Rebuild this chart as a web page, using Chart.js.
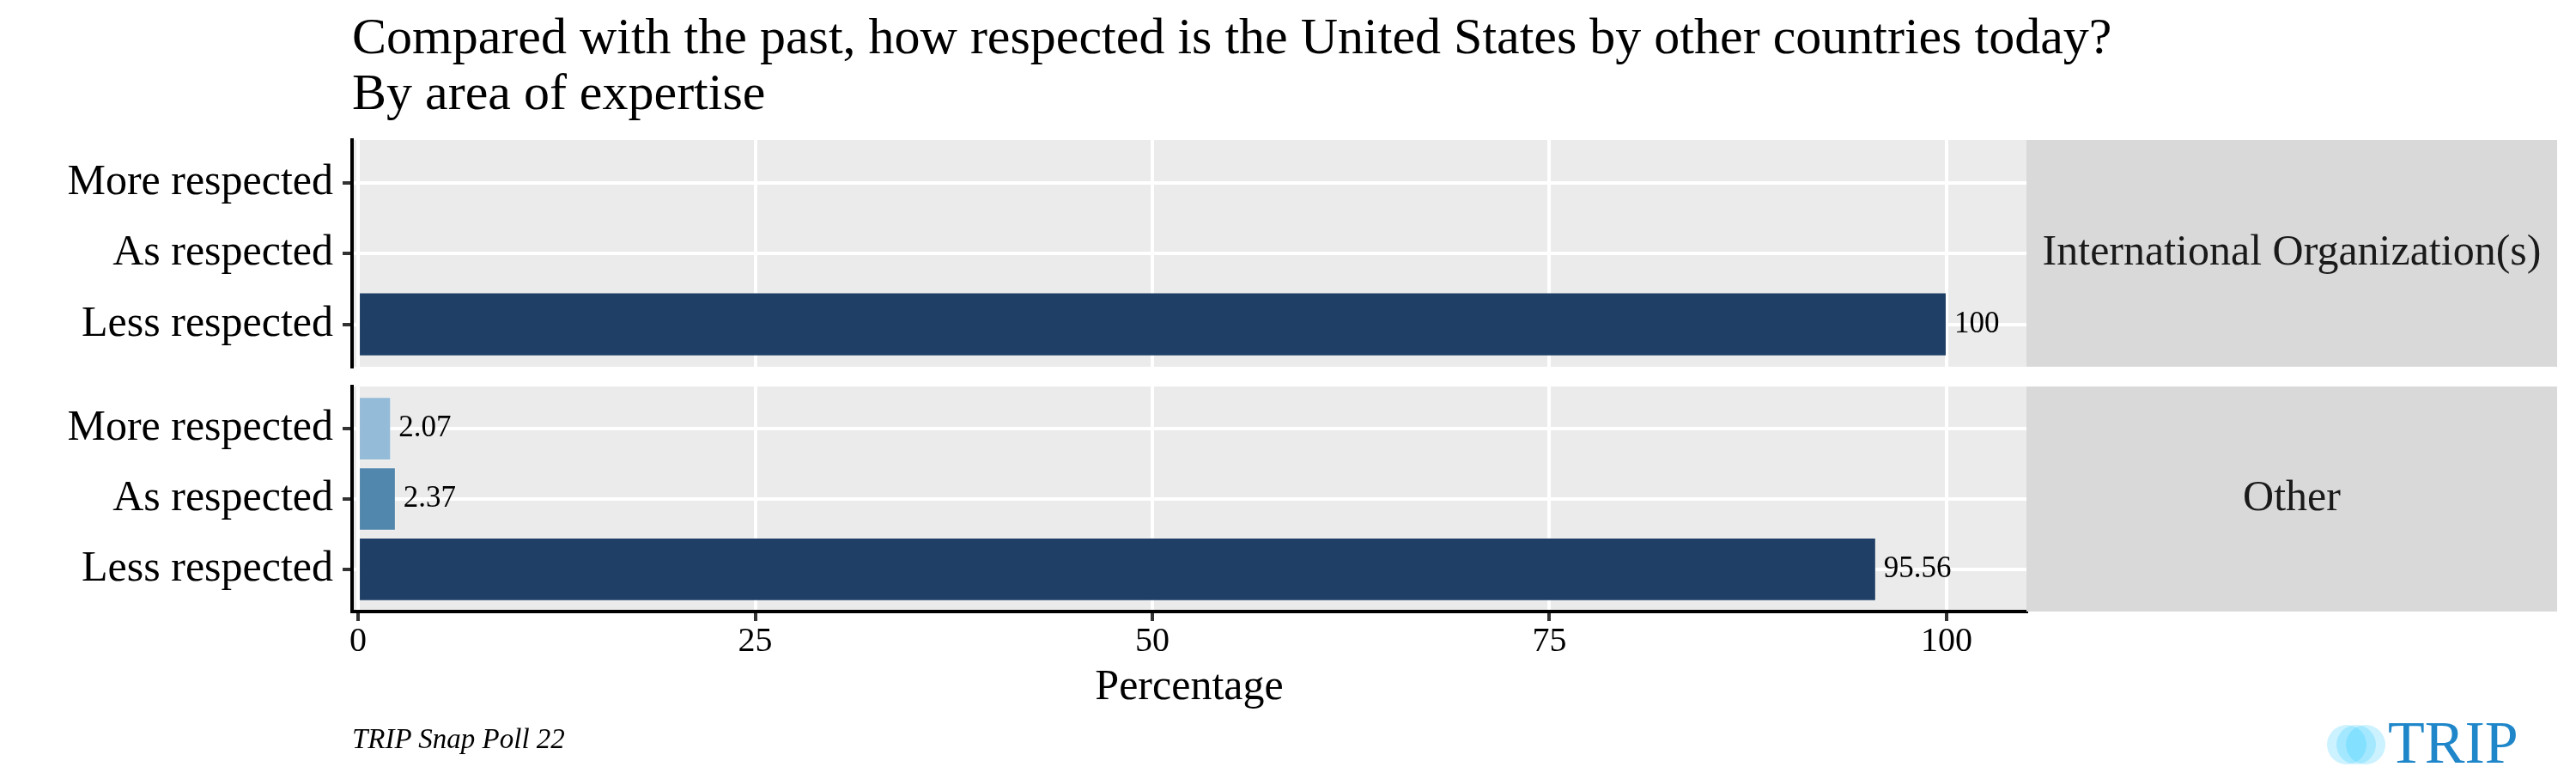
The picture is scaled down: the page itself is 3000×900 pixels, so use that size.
<!DOCTYPE html>
<html>
<head>
<meta charset="utf-8">
<script src="https://cdn.jsdelivr.net/npm/chart.js@4.4.0/dist/chart.umd.min.js"></script>
<style>
  html, body { margin: 0; padding: 0; background: #fff; }
  body { width: 3000px; height: 900px; position: relative; overflow: hidden; font-family: 'Liberation Serif', 'Times New Roman', serif; }
  canvas { position: absolute; left: 0; }
  #topChart { top: 140px; }
  #bottomChart { top: 440px; }
  .title { position: absolute; left: 410px; top: 10px; font-size: 60px; line-height: 65px; color: #000; white-space: nowrap; }
  .caption { position: absolute; left: 410px; top: 844px; font-size: 33px; line-height: 33px; font-style: italic; color: #000; }
  .logo-text { position: absolute; left: 2781px; top: 830px; font-size: 70px; line-height: 70px; color: #1F87C9; }
  .dot { position: absolute; width: 46px; height: 46px; border-radius: 50%; background: rgba(0, 190, 255, 0.2); top: 844px; }
</style>
</head>
<body>
<div class="title">Compared with the past, how respected is the United States by other countries today?<br>By area of expertise</div>

<canvas id="topChart" width="3000" height="300"></canvas>
<canvas id="bottomChart" width="3000" height="460"></canvas>

<div class="caption">TRIP Snap Poll 22</div>
<div class="dot" style="left:2710px"></div>
<div class="dot" style="left:2721px"></div>
<div class="dot" style="left:2732px"></div>
<div class="logo-text">TRIP</div>

<script>
// data
const categories = ['More respected', 'As respected', 'Less respected'];
const facetLabels = ['International Organization(s)', 'Other'];
const intlOrgValues = [null, null, 100];
const otherValues = [2.07, 2.37, 95.56];
const barColors = ['#94BBD8', '#5287AD', '#1F3F66'];
const xTicks = [0, 25, 50, 75, 100];

const FONT = "'Liberation Serif', 'Times New Roman', serif";
const STRIP_RIGHT = 2978;
const CAT_EXPAND = 0.6; // ggplot style discrete padding

Chart.defaults.font.family = FONT;
Chart.defaults.color = '#000';

// panel background + facet strip
const panelPlugin = {
    id: 'panel',
    beforeDraw(chart) {
        const { ctx, chartArea: a } = chart;
        ctx.save();
        ctx.fillStyle = '#EBEBEB';
        ctx.fillRect(a.left, a.top, a.right - a.left, a.bottom - a.top);
        ctx.restore();
    },
    afterDraw(chart, args, opts) {
        const { ctx, chartArea: a } = chart;
        ctx.save();
        ctx.fillStyle = '#D9D9D9';
        ctx.fillRect(a.right, a.top, STRIP_RIGHT - a.right, a.bottom - a.top);
        ctx.fillStyle = '#1A1A1A';
        ctx.font = '50px ' + FONT;
        ctx.textAlign = 'center';
        ctx.textBaseline = 'middle';
        ctx.fillText(opts.label, (a.right + STRIP_RIGHT) / 2, (a.top + a.bottom) / 2);
        ctx.restore();
    }
};

// numbers next to the bars
const valueLabels = {
    id: 'valueLabels',
    afterDatasetsDraw(chart) {
        const { ctx } = chart;
        const values = chart.data.datasets[0].data;
        const meta = chart.getDatasetMeta(0);
        ctx.save();
        ctx.fillStyle = '#000';
        ctx.font = '35px ' + FONT;
        ctx.textAlign = 'left';
        ctx.textBaseline = 'middle';
        meta.data.forEach((bar, i) => {
            if (values[i] == null) return;
            ctx.fillText(String(values[i]), bar.x + 9, bar.y);
        });
        ctx.restore();
    }
};

function makeChart(id, values, facet, showXAxis) {
    const ctx = document.getElementById(id).getContext('2d');
    const xHeight = showXAxis ? 119 : 0;
    return new Chart(ctx, {
        type: 'bar',
        data: {
            labels: categories,
            datasets: [{
                data: values,
                backgroundColor: barColors,
                borderColor: 'rgba(255,255,255,0.3)',
                borderWidth: 1,
                barPercentage: 0.9,
                categoryPercentage: 1.0
            }]
        },
        options: {
            indexAxis: 'y',
            responsive: false,
            animation: false,
            devicePixelRatio: 1,
            layout: {
                padding: showXAxis
                    ? { top: 10, bottom: 69, left: 0, right: 640 }
                    : { top: 23, bottom: 13, left: 0, right: 640 }
            },
            plugins: {
                legend: { display: false },
                tooltip: { enabled: false },
                title: { display: false },
                panel: { label: facet }
            },
            scales: {
                x: {
                    type: 'linear',
                    min: -0.38,
                    max: 105.03,
                    afterBuildTicks(scale) {
                        scale.ticks = xTicks.map(v => ({ value: v }));
                    },
                    afterFit(scale) {
                        scale.height = xHeight;
                        scale.paddingLeft = 0;
                        scale.paddingRight = 0;
                    },
                    grid: {
                        color: '#FFFFFF',
                        lineWidth: 4,
                        drawTicks: showXAxis,
                        tickLength: 11,
                        tickColor: '#333333',
                        tickWidth: 4
                    },
                    border: { display: showXAxis, color: '#000', width: 4 },
                    ticks: {
                        display: showXAxis,
                        padding: 0,
                        color: '#000',
                        font: { size: 40, lineHeight: 1.2 },
                        maxRotation: 0
                    },
                    title: {
                        display: showXAxis,
                        text: 'Percentage',
                        color: '#000',
                        padding: 0,
                        font: { size: 50, lineHeight: 1.2 }
                    }
                },
                y: {
                    type: 'category',
                    afterBuildTicks(scale) {
                        scale._startValue = -CAT_EXPAND;
                        scale._valueRange = categories.length - 1 + 2 * CAT_EXPAND;
                    },
                    afterFit(scale) {
                        scale.width = 410;
                        scale.paddingTop = 0;
                        scale.paddingBottom = 0;
                    },
                    grid: {
                        offset: false,
                        color: '#FFFFFF',
                        lineWidth: 4,
                        tickLength: 11,
                        tickColor: '#333333',
                        tickWidth: 4
                    },
                    border: { display: true, color: '#000', width: 4 },
                    ticks: {
                        padding: 11,
                        color: '#000',
                        font: { size: 50 }
                    }
                }
            }
        },
        plugins: [panelPlugin, valueLabels]
    });
}

makeChart('topChart', intlOrgValues, facetLabels[0], false);
makeChart('bottomChart', otherValues, facetLabels[1], true);
</script>
</body>
</html>
